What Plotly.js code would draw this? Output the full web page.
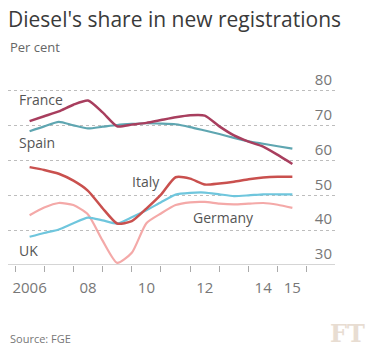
<!DOCTYPE html>
<html>
<head>
<meta charset="utf-8">
<script src="https://cdn.plot.ly/plotly-3.0.1.min.js"></script>
<style>
html,body{margin:0;padding:0;background:#fff;}
#chart{width:375px;height:357px;}
</style>
</head>
<body>
<div id="chart"></div>
<script>
// Half-year positions (decimal years, mid-year points)
const t = [2006.5, 2007, 2007.5, 2008, 2008.5, 2009, 2009.5, 2010, 2010.5, 2011, 2011.5, 2012, 2012.5, 2013, 2013.5, 2014, 2014.5, 2015, 2015.5];

const france  = [71.3, 72.7, 74.1, 76.0, 77.2, 73.8, 69.8, 70.3, 70.8, 71.6, 72.4, 73.0, 72.9, 69.8, 67.2, 65.4, 64.0, 61.6, 59.0];
const spain   = [68.4, 69.8, 71.1, 70.1, 69.2, 69.7, 70.2, 70.5, 70.7, 70.6, 70.4, 69.6, 68.6, 67.6, 66.5, 65.5, 64.8, 64.1, 63.4];
const italy   = [58.1, 57.3, 56.2, 54.2, 51.3, 46.3, 41.9, 42.6, 46.2, 50.2, 55.2, 54.8, 53.1, 53.4, 53.9, 54.6, 55.1, 55.3, 55.3];
const uk      = [38.1, 39.2, 40.2, 42.0, 43.6, 42.8, 41.9, 43.7, 45.7, 48.0, 50.2, 50.7, 50.8, 50.3, 49.8, 50.0, 50.3, 50.3, 50.3];
const germany = [44.3, 46.5, 47.8, 47.2, 44.5, 37.0, 30.6, 33.5, 42.0, 44.8, 47.2, 48.0, 48.1, 47.6, 47.4, 47.6, 47.8, 47.3, 46.4];

const xTickVals = [2006.5, 2008.5, 2010.5, 2012.5, 2014.5, 2015.5];
const xTickText = ["2006", "08", "10", "12", "14", "15"];
const yearBounds = [2006, 2007, 2008, 2009, 2010, 2011, 2012, 2013, 2014, 2015, 2016];
const yTickVals = [30, 40, 50, 60, 70, 80];

const font = "Open Sans, Lato, sans-serif";

function line(y, color, width) {
  return {x: t, y: y, type: 'scatter', mode: 'lines',
          line: {color: color, width: width, shape: 'spline', smoothing: 0.6},
          hoverinfo: 'skip', showlegend: false};
}

const data = [
  line(germany, '#f4a9a8', 2.2),
  line(uk, '#6fc6dd', 2.2),
  line(italy, '#c9504e', 2.5),
  line(spain, '#5fa6b1', 2.2),
  line(france, '#a83e5e', 2.5)
];

const labels = [
  {text: 'France',  x: 2006.07, y: 77.4},
  {text: 'Spain',   x: 2006.07, y: 65.1},
  {text: 'Italy',   x: 2009.94, y: 53.9},
  {text: 'Germany', x: 2012.03, y: 43.5},
  {text: 'UK',      x: 2006.07, y: 34.3}
].map(a => ({text: a.text, x: a.x, y: a.y, xref: 'x', yref: 'y', xanchor: 'left', yanchor: 'middle',
  showarrow: false, font: {family: font, size: 14, color: '#555'}}));

const PH = 209; // plot height in px
const layout = {
  width: 375, height: 357,
  paper_bgcolor: '#ffffff', plot_bgcolor: '#ffffff',
  margin: {l: 8, r: 40, t: 56, b: 92},
  title: {text: "Diesel's share in new registrations", x: 8/375, xref: 'container', xanchor: 'left',
          y: 1 - 20/357, yref: 'container', yanchor: 'middle',
          font: {family: font, size: 21, color: '#3a3a3a'}},
  xaxis: {
    range: [2005.76, 2016.96], showgrid: false, zeroline: false,
    tickmode: 'array', tickvals: xTickVals, ticktext: xTickText, ticks: '',
    ticklabelstandoff: 12,
    tickfont: {family: font, size: 15, color: '#777'},
    showline: false,
    minor: {tickmode: 'array', tickvals: yearBounds, ticks: 'outside', ticklen: 6, tickwidth: 1, tickcolor: '#aaa', showgrid: false}
  },
  yaxis: {
    range: [30, 90], side: 'right', ticklabelposition: 'inside', ticklabelshift: -11,
    tickmode: 'array', tickvals: yTickVals, ticks: '',
    showgrid: true, gridcolor: '#bdbdbd', griddash: 'dot', gridwidth: 1,
    zeroline: false, showline: false,
    tickfont: {family: font, size: 15, color: '#777'}
  },
  shapes: [
    {type: 'line', xref: 'paper', yref: 'y', x0: 0, x1: 1, y0: 30, y1: 30, line: {color: '#aaa', width: 1}}
  ],
  annotations: labels.concat([
    {text: 'Per cent', xref: 'paper', yref: 'paper', x: 0, y: 1 + 9/PH, xanchor: 'left', yanchor: 'middle',
     showarrow: false, font: {family: font, size: 13, color: '#666'}},
    {text: 'Source: FGE', xref: 'paper', yref: 'paper', x: 0, y: -73/PH, xanchor: 'left', yanchor: 'middle',
     showarrow: false, font: {family: font, size: 11, color: '#777'}},
    {text: '<b>FT</b>', xref: 'paper', yref: 'paper', x: 1 + 32/327, y: -68/PH, xanchor: 'right', yanchor: 'middle',
     showarrow: false, font: {family: 'DejaVu Serif, Liberation Serif, serif', size: 24, color: '#e8ddd2'}}
  ])
};

Plotly.newPlot('chart', data, layout, {staticPlot: true, displayModeBar: false});
</script>
</body>
</html>
